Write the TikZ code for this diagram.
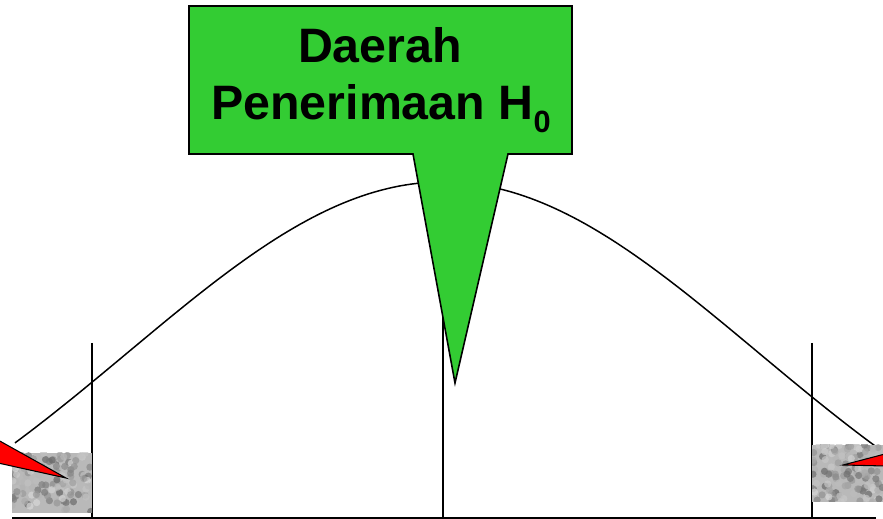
\documentclass[tikz,border=0pt]{standalone}
\usepackage{fontspec}
\setmainfont{Liberation Sans}
\usepackage{xcolor}
\usepackage{tikz}
\usetikzlibrary{positioning, arrows.meta}
\definecolor{CalloutGreen}{RGB}{51,204,51}
\definecolor{PointerRed}{RGB}{255,0,0}
\tikzset{
  axisline/.style={black, line width=1.1pt},
  limitline/.style={black, line width=1.1pt},
  bellcurve/.style={black, line width=0.85pt},
  greencall/.style={fill=CalloutGreen, draw=black, line width=0.9pt, line join=miter},
  redcall/.style={fill=PointerRed, draw=black, line width=0.6pt},
  calltext/.style={font=\fontsize{27.5}{33}\selectfont\bfseries, inner sep=0pt, anchor=base},
}
% noisy grey patch for the rejection tails
\newcommand{\greypatch}[4]{%
  \begin{scope}
    \clip (#1,#2) rectangle (#3,#4);
    \fill[gray!55] (#1,#2) rectangle (#3,#4);
    \foreach \k in {1,...,120} {
      \pgfmathsetmacro{\px}{#1+(#3-#1)*rnd}
      \pgfmathsetmacro{\py}{#2+(#4-#2)*rnd}
      \pgfmathsetmacro{\pc}{15+45*rnd}
      \fill[black!\pc, opacity=0.7] (\px,\py) circle (3.6);
    }
  \end{scope}}

\begin{document}
\begin{tikzpicture}[x=0.02cm, y=-0.02cm]
    \useasboundingbox (0,0) rectangle (883,519);
    \pgfmathsetseed{11}
    % the curve and the limits
    \draw[bellcurve] plot[domain=15:877, samples=140] (\x, {615-433*exp(-(((\x-443)/100)^2)/19.845)});
    \coordinate (peak) at (443,182);
    \coordinate (c0) at (443,518);
    \coordinate (l1) at (92,343);
    \coordinate (l0) at (92,518);
    \coordinate (r1) at (812,343);
    \coordinate (r0) at (812,518);
    \coordinate (ax0) at (12,518);
    \coordinate (ax1) at (876,518);
    \draw[limitline] (l1) -- (l0);
    \draw[limitline] (r1) -- (r0);
    \draw[limitline] (peak) -- (c0);
    \draw[axisline] (ax0) -- (ax1);
    % the two tails
    \greypatch{12}{453}{92}{513}
    \greypatch{812}{445}{883}{502}
    \draw[redcall] (-2,440) -- (66,478) -- (-2,463) -- cycle;
    \draw[redcall] (885,454) -- (843,465) -- (885,466) -- cycle;
    % the acceptance callout
    \draw[greencall] (189,6) -- (572,6) -- (572,154) -- (508,154) -- (455,383)
      -- (413,154) -- (189,154) -- cycle;
    \node[calltext] (daerah) at (380,63) {Daerah};
    \node[calltext] (terima) at (381,120) {Penerimaan H\raisebox{-7.4pt}{\fontsize{17.5}{17.5}\selectfont 0}};
  \end{tikzpicture}
\end{document}
